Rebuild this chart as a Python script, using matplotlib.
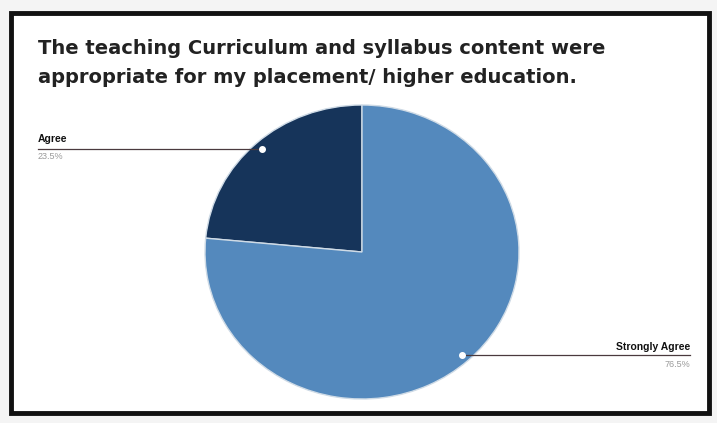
import numpy as np
import matplotlib
matplotlib.use("Agg")
import matplotlib.pyplot as plt
from matplotlib.patches import Rectangle

title = "The teaching Curriculum and syllabus content were\nappropriate for my placement/ higher education."
labels = ["Agree", "Strongly Agree"]
values = [23.5, 76.5]
pct_labels = ["23.5%", "76.5%"]
colors = ["#16345a", "#5489bd"]

W, H = 717, 423
fig = plt.figure(figsize=(W / 100, H / 100), dpi=100)
fig.patch.set_facecolor("#f4f4f4")

# white card with black border, drawn on the figure itself
fig.patches.append(Rectangle((11 / W, 1 - 413 / H), 698 / W, 400 / H, transform=fig.transFigure,
                             facecolor="white", edgecolor="#111111", lw=3.5, zorder=0))

# pie axes
cx, cy, rx, ry = 362, 252, 157, 147
pie_ax = fig.add_axes([(cx - rx) / W, (H - cy - ry) / H, 2 * rx / W, 2 * ry / H])
pie_ax.set_zorder(1)
wedges, _ = pie_ax.pie(values, colors=colors, startangle=90, counterclock=True,
                       wedgeprops=dict(edgecolor="#cfdbe6", linewidth=1))
pie_ax.set_aspect("auto")
pie_ax.set_xlim(-1, 1)
pie_ax.set_ylim(-1, 1)

# overlay in pixel coordinates
ov = fig.add_axes([0, 0, 1, 1])
ov.set_zorder(2)
ov.set_xlim(0, W)
ov.set_ylim(H, 0)
ov.axis("off")

ov.text(38, 63, title, fontsize=14, color="#222222", family="DejaVu Sans",
        va="center", ha="left", linespacing=1.7, fontweight="bold")

to_px = pie_ax.transData + ov.transData.inverted()
for i, w in enumerate(wedges):
    mid = np.deg2rad((w.theta1 + w.theta2) / 2)
    px, py = to_px.transform((0.95 * np.cos(mid), 0.95 * np.sin(mid)))
    ov.plot(px, py, "o", color="white", ms=4, zorder=5)
    if i == 0:
        ov.plot([38, px], [py, py], color="#4a3a3e", lw=0.9, zorder=4)
        ov.text(38, py - 5, labels[i], fontsize=7.5, fontweight="bold", ha="left", va="bottom",
                family="Liberation Sans", color="#111111")
        ov.text(38, py + 3, pct_labels[i], fontsize=6.5, ha="left", va="top",
                family="Liberation Sans", color="#9a9a9a")
    else:
        ov.plot([px, 690], [py, py], color="#4a3a3e", lw=0.9, zorder=4)
        ov.text(690, py - 3, labels[i], fontsize=7.5, fontweight="bold", ha="right", va="bottom",
                family="Liberation Sans", color="#111111")
        ov.text(690, py + 5, pct_labels[i], fontsize=6.5, ha="right", va="top",
                family="Liberation Sans", color="#9a9a9a")

fig.savefig("out.png", dpi=100, facecolor=fig.get_facecolor())
